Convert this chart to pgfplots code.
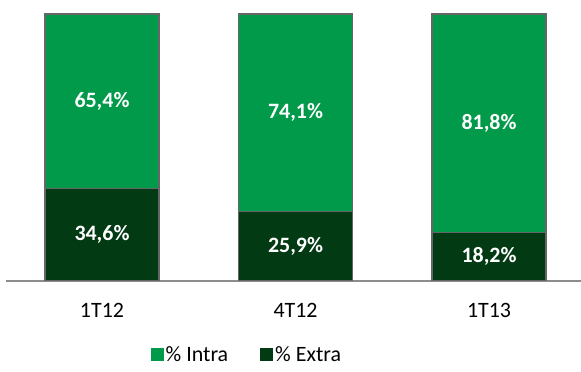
\documentclass[border=0pt]{standalone}
\usepackage{pgfplots}
\pgfplotsset{compat=1.18}
\usepackage{fontspec}
\setmainfont{Carlito}
\definecolor{intra}{RGB}{0,154,74}
\definecolor{extra}{RGB}{2,58,20}
\definecolor{axgray}{RGB}{140,140,140}
\begin{document}
\begin{tikzpicture}
\useasboundingbox (0,0) rectangle (581bp,372bp);
\begin{axis}[
  at={(6bp,91bp)}, anchor=south west,
  scale only axis, width=575bp, height=267bp,
  ybar stacked, bar width=114bp,
  xmin=-0.496, xmax=2.475, ymin=0, ymax=100,
  axis x line*=bottom, axis y line=none,
  x axis line style={draw=axgray, line width=1.2bp, -},
  xtick=data, xticklabels={1T12,4T12,1T13},
  major tick length=0pt,
  xticklabel style={font=\fontsize{22}{26}\selectfont, text=black, yshift=-19bp},
  ytick=\empty,
  point meta=explicit symbolic,
  nodes near coords,
  every node near coord/.append style={font=\fontsize{22}{26}\selectfont\bfseries, text=white, anchor=center},
  legend style={at={(0.419,-0.277)}, anchor=center, draw=none, fill=none,
    legend columns=2, font=\fontsize{22}{26}\selectfont,
    /tikz/every even column/.append style={column sep=30bp},
    legend cell align=left, inner sep=0pt},
  reverse legend,
  legend image code/.code={\fill[#1, draw=none] (0bp,-6.5bp) rectangle (13bp,6.5bp);},
]
\addplot[fill=extra, draw=black!60, line width=1.2bp] coordinates {(0,34.6) [34,6\%] (1,25.9) [25,9\%] (2,18.2) [18,2\%]};
\addlegendentry{\% Extra}
\addplot[fill=intra, draw=black!60, line width=1.2bp] coordinates {(0,65.4) [65,4\%] (1,74.1) [74,1\%] (2,81.8) [81,8\%]};
\addlegendentry{\% Intra}
\end{axis}
\end{tikzpicture}
\end{document}
